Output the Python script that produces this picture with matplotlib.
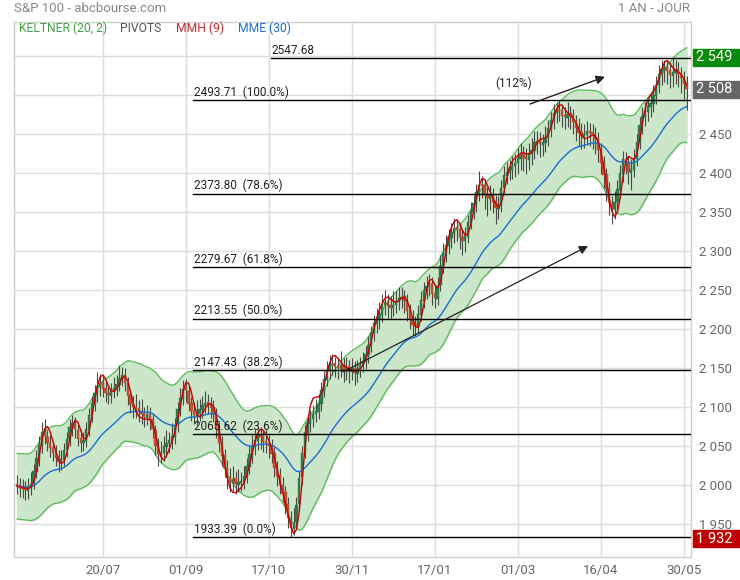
import numpy as np
import pandas as pd
import matplotlib
matplotlib.use("Agg")
import matplotlib.pyplot as plt

# ---------------- data ----------------
close = [1999,1997,1996,1994,1998,2002,2018,2035,2052,2068,
         2063,2054,2048,2042,2035,2030,2034,2046,2060,2075,
         2080,2072,2060,2055,2058,2072,2090,2106,2118,2128,
         2132,2124,2118,2116,2122,2125,2130,2138,2141,2132,
         2115,2104,2100,2098,2094,2092,2088,2091,2084,2072,
         2050,2040,2042,2050,2055,2058,2063,2078,2098,2112,
         2124,2122,2105,2095,2090,2092,2098,2103,2106,2104,
         2099,2092,2072,2055,2038,2022,2010,2004,2008,2002,
         2004,2006,2012,2025,2040,2050,2058,2064,2062,2056,
         2054,2050,2040,2022,2012,2000,1990,1975,1958,1945,
         1952,1975,2010,2042,2068,2080,2086,2092,2095,2105,
         2122,2136,2148,2155,2156,2152,2150,2154,2148,2152,
         2146,2150,2144,2150,2155,2160,2168,2180,2196,2208,
         2215,2220,2232,2235,2230,2228,2232,2236,2240,2242,
         2236,2224,2214,2206,2204,2220,2238,2250,2256,2258,
         2246,2240,2256,2282,2298,2308,2318,2325,2330,2328,
         2318,2314,2320,2338,2352,2362,2376,2385,2384,2372,
         2368,2372,2364,2356,2360,2382,2398,2402,2406,2410,
         2414,2420,2424,2420,2418,2426,2430,2440,2442,2438,
         2440,2446,2458,2468,2478,2482,2480,2474,2472,2476,
         2474,2466,2458,2452,2448,2450,2454,2452,2450,2444,
         2430,2414,2398,2380,2362,2355,2364,2380,2400,2418,
         2414,2402,2406,2420,2440,2462,2474,2480,2486,2490,
         2500,2514,2528,2534,2536,2532,2526,2530,2533,2528,
         2522,2515,2508]
open_ = [2002,2000,1998,1997,1993,1997,2003,2017,2034,2050,
         2069,2062,2055,2049,2043,2036,2029,2033,2045,2059,
         2074,2081,2071,2061,2054,2057,2071,2089,2105,2117,
         2126,2133,2125,2119,2115,2121,2124,2129,2137,2142,
         2131,2116,2105,2101,2099,2095,2093,2087,2092,2085,
         2071,2051,2039,2041,2049,2054,2057,2062,2077,2097,
         2111,2126,2121,2106,2096,2089,2091,2097,2102,2107,
         2105,2100,2091,2073,2054,2039,2023,2011,2003,2009,
         2001,2003,2005,2011,2024,2039,2049,2057,2065,2063,
         2057,2055,2051,2041,2023,2013,2001,1991,1976,1957,
         1944,1953,1976,2011,2043,2067,2079,2085,2091,2094,
         2104,2121,2135,2147,2154,2157,2153,2149,2155,2147,
         2153,2145,2151,2143,2149,2154,2159,2167,2179,2195,
         2207,2214,2219,2231,2236,2231,2227,2231,2235,2239,
         2243,2237,2225,2215,2207,2203,2219,2237,2249,2255,
         2259,2247,2239,2257,2281,2297,2307,2317,2324,2331,
         2329,2319,2313,2319,2337,2351,2361,2375,2386,2385,
         2373,2367,2373,2365,2355,2359,2381,2397,2401,2405,
         2409,2413,2419,2425,2421,2417,2425,2429,2439,2443,
         2437,2439,2445,2457,2467,2477,2483,2481,2475,2471,
         2477,2475,2467,2459,2453,2447,2449,2455,2453,2451,
         2445,2431,2415,2399,2381,2361,2354,2363,2379,2399,
         2419,2415,2401,2405,2419,2439,2461,2473,2479,2485,
         2489,2499,2513,2527,2533,2537,2533,2525,2529,2534,
         2529,2523,2516]
high = [2013,2010,2008,2006,2009,2017,2027,2045,2063,2081,
        2085,2071,2065,2057,2052,2045,2045,2055,2069,2085,
        2090,2088,2079,2071,2069,2081,2099,2115,2129,2145,
        2143,2141,2134,2129,2132,2139,2141,2155,2152,2150,
        2139,2123,2115,2117,2109,2111,2101,2103,2100,2093,
        2078,2061,2057,2063,2071,2069,2080,2087,2107,2125,
        2135,2137,2129,2113,2107,2109,2111,2115,2121,2117,
        2113,2109,2099,2081,2063,2047,2033,2023,2025,2019,
        2021,2017,2025,2035,2051,2065,2073,2073,2075,2071,
        2071,2065,2059,2049,2031,2023,2011,1999,1985,1967,
        1971,1985,2019,2051,2077,2091,2097,2103,2111,2117,
        2133,2147,2159,2167,2169,2165,2163,2173,2163,2165,
        2161,2163,2159,2161,2165,2171,2179,2191,2205,2219,
        2227,2235,2245,2251,2245,2243,2249,2249,2255,2255,
        2251,2245,2233,2225,2217,2231,2249,2261,2269,2271,
        2267,2257,2267,2295,2311,2321,2329,2337,2343,2341,
        2337,2327,2331,2347,2363,2373,2387,2403,2397,2393,
        2383,2385,2381,2373,2371,2391,2409,2415,2417,2423,
        2425,2433,2439,2435,2433,2439,2445,2455,2455,2453,
        2451,2461,2469,2479,2489,2492,2493.71,2489,2485,2491,
        2487,2483,2475,2471,2465,2463,2467,2465,2463,2459,
        2453,2439,2423,2407,2389,2371,2377,2391,2411,2429,
        2427,2423,2419,2431,2451,2473,2485,2491,2497,2503,
        2513,2525,2539,2545,2546,2545,2543,2547.68,2545,2543,
        2537,2531,2525]
low = [1989,1985,1984,1981,1983,1988,1995,2009,2025,2041,
       2053,2044,2037,2031,2025,2017,2020,2025,2037,2050,
       2063,2061,2050,2043,2044,2049,2063,2081,2095,2107,
       2115,2113,2107,2105,2106,2112,2115,2121,2127,2121,
       2103,2093,2087,2087,2081,2079,2075,2077,2071,2061,
       2039,2025,2029,2031,2037,2041,2047,2053,2069,2089,
       2103,2107,2095,2083,2079,2078,2083,2087,2093,2091,
       2087,2081,2061,2043,2025,2011,1995,1991,1993,1989,
       1991,1993,1995,2003,2015,2029,2039,2045,2047,2043,
       2041,2035,2029,2011,1999,1989,1979,1963,1945,1933.39,
       1936,1943,1967,2001,2035,2057,2069,2075,2081,2085,
       2095,2113,2127,2137,2141,2139,2137,2139,2133,2135,
       2131,2135,2129,2133,2139,2145,2149,2157,2171,2185,
       2195,2201,2209,2219,2215,2213,2217,2221,2225,2227,
       2221,2211,2201,2193,2191,2195,2211,2227,2239,2243,
       2231,2227,2231,2249,2273,2287,2297,2305,2311,2313,
       2303,2295,2299,2311,2329,2341,2351,2365,2369,2355,
       2345,2353,2349,2335,2341,2351,2373,2387,2391,2393,
       2395,2399,2405,2403,2399,2405,2411,2419,2425,2421,
       2423,2427,2435,2447,2457,2465,2467,2459,2457,2459,
       2457,2451,2441,2435,2431,2433,2437,2435,2431,2425,
       2415,2399,2381,2365,2347,2335,2341,2353,2369,2389,
       2399,2387,2379,2395,2409,2431,2451,2461,2467,2473,
       2479,2489,2503,2513,2517,2515,2509,2511,2515,2511,
       2503,2495,2481]

tick_pos = [31, 61, 91, 121, 151, 181, 211, 241]
tick_labels = ["20/07", "01/09", "17/10", "30/11", "17/01", "01/03", "16/04", "30/05"]
y_ticks = [1950, 2000, 2050, 2100, 2150, 2200, 2250, 2300, 2350, 2400, 2450, 2500, 2550]
hidden_ticks = [2500]   # fully covered by the last-price box in the reference

fib_values = [2547.68, 2493.71, 2373.80, 2279.67, 2213.55, 2147.43, 2065.62, 1933.39]
fib_pcts = ["", "100.0%", "78.6%", "61.8%", "50.0%", "38.2%", "23.6%", "0.0%"]

box_values = [2549, 2508, 1932]
arrow_label = "(112%)"

# ---------------- indicators ----------------
c = pd.Series(close, dtype=float)
o = pd.Series(open_, dtype=float)
h = pd.Series(high, dtype=float)
l = pd.Series(low, dtype=float)
n = len(c)
x = np.arange(n)

mid = c.ewm(span=20, adjust=False).mean()
prev_c = c.shift(1).fillna(o)
tr = pd.concat([h - l, (h - prev_c).abs(), (l - prev_c).abs()], axis=1).max(axis=1)
atr = tr.ewm(span=20, adjust=False).mean()
band_k = 1.75
kel_up = mid + band_k * atr
kel_dn = mid - band_k * atr

ema30 = c.ewm(span=30, adjust=False).mean()


def wma(s, p):
    arr = np.asarray(s, dtype=float)
    out = np.empty_like(arr)
    for i in range(len(arr)):
        k = min(p, i + 1)
        w = np.arange(1, k + 1, dtype=float)
        out[i] = np.dot(arr[i - k + 1:i + 1], w) / w.sum()
    return out


hma9 = wma(2 * wma(c, 4) - wma(c, 9), 3)

# ---------------- figure ----------------
plt.rcParams["font.family"] = ["Roboto", "DejaVu Sans"]
fig = plt.figure(figsize=(7.4, 5.8), dpi=100)
ax = fig.add_axes([14 / 740, 1 - 557 / 580, (691 - 14) / 740, (557 - 22) / 580])

ax.set_xlim(-1.1, 243.6)
ax.set_ylim(1908.3, 2594.2)

for s in ax.spines.values():
    s.set_color("#d0d0d0")
    s.set_linewidth(1)

ax.set_xticks(tick_pos)
ax.set_xticklabels(tick_labels)
ax.set_yticks(y_ticks)
ax.set_yticklabels(["" if v in hidden_ticks else f"{v:,}".replace(",", " ") for v in y_ticks])
ax.yaxis.tick_right()
ax.tick_params(axis="both", length=0, labelsize=9.5, colors="#666666")
ax.tick_params(axis="y", pad=6)
ax.tick_params(axis="x", pad=5)
ax.grid(True, color="#dddddd", linewidth=1)
ax.set_axisbelow(True)

# Keltner
ax.fill_between(x, kel_dn, kel_up, color="#cbe6c8", zorder=1)
ax.plot(x, kel_up, color="#5cb85c", lw=0.9, zorder=2)
ax.plot(x, kel_dn, color="#5cb85c", lw=0.9, zorder=2)

# Candles
up = (c >= o).to_numpy()
ax.vlines(x, l, h, color="#4a4a4a", lw=0.8, zorder=3)
body_bottom = np.minimum(o, c).to_numpy()
body_h = np.maximum(np.abs(c - o), 1.0).to_numpy()
ax.bar(x[up], body_h[up], bottom=body_bottom[up], width=0.85,
       color="#2e7d4f", edgecolor="#2a7047", linewidth=0.3, zorder=4)
ax.bar(x[~up], body_h[~up], bottom=body_bottom[~up], width=0.85,
       color="#c0532f", edgecolor="#a8442a", linewidth=0.3, zorder=4)

# Moving averages
ax.plot(x, ema30, color="#1a6fd6", lw=1.0, zorder=5)
ax.plot(x, hma9, color="#cc0000", lw=1.0, zorder=5)

# Fibonacci levels
fib_start = [91.8] + [63.6] * 7
for v, p, xs in zip(fib_values, fib_pcts, fib_start):
    ax.plot([xs, 243.6], [v, v], color="black", lw=1, zorder=6)
    lbl = f"{v:.2f}" + (f"  ({p})" if p else "")
    ax.text(xs + 0.3, v + 2, lbl, fontsize=8.5, color="#222222",
            ha="left", va="bottom", zorder=7)

# Arrows
ax.annotate("", xy=(212.5, 2524), xytext=(185.4, 2489),
            arrowprops=dict(arrowstyle="-|>", color="#222222", lw=1,
                            mutation_scale=13, shrinkA=0, shrinkB=0), zorder=7)
ax.text(179.6, 2516, arrow_label, fontsize=8.5, color="#222222",
        ha="center", va="center", zorder=7)
ax.annotate("", xy=(206.4, 2307), xytext=(117.8, 2145.5),
            arrowprops=dict(arrowstyle="-|>", color="#222222", lw=0.9,
                            mutation_scale=13, shrinkA=0, shrinkB=0), zorder=7)

# Right-side value boxes
box_colors = ["#0a8a0a", "#666666", "#c00000"]
for v, col in zip(box_values, box_colors):
    y_fig = ax.transData.transform((0, v))[1]
    yf = y_fig / fig.bbox.height
    fig.patches.append(plt.Rectangle((693 / 740, yf - 8.5 / 580), 47 / 740, 17 / 580,
                                     transform=fig.transFigure, color=col, zorder=10))
    fig.text(696 / 740, yf, f"{v:,}".replace(",", " "), color="white", fontsize=10.5,
             ha="left", va="center", zorder=11)

# Header texts
fig.text(14 / 740, 1 - 8 / 580, "S&P 100 - abcbourse.com", fontsize=9.5, color="#888888",
         ha="left", va="center")
fig.text(690 / 740, 1 - 8 / 580, "1 AN - JOUR", fontsize=9.5, color="#888888",
         ha="right", va="center")
legend_items = [("KELTNER (20, 2)", "#43a047", 19), ("PIVOTS", "#555555", 120),
                ("MMH (9)", "#c62828", 176), ("MME (30)", "#1e6fd0", 238)]
for t, col, px in legend_items:
    fig.text(px / 740, 1 - 28 / 580, t, fontsize=8.7, color=col, ha="left", va="center")

fig.savefig("out.png", dpi=100)
